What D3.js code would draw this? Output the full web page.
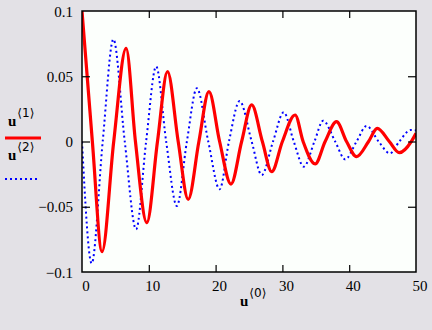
<!DOCTYPE html>
<html>
<head>
<meta charset="utf-8">
<script src="https://cdn.jsdelivr.net/npm/d3@7"></script>
<style>
  body { margin: 0; background: #e3e1e6; }
  svg { display: block; }
  .tick-label { font-family: "Liberation Serif", "Times New Roman", serif; font-size: 15px; fill: #000; }
  .var { font-family: "Liberation Serif", serif; font-weight: bold; font-size: 15px; }
  .sup { font-family: "DejaVu Sans", sans-serif; font-size: 12px; }
</style>
</head>
<body>
<div id="chart"></div>
<script>

// values (extrema and zero crossings)
var u1X = [0, 1.55, 3.0, 4.75, 6.6, 8.0, 9.7, 11.3, 12.8, 14.4, 15.9, 17.5, 19.0, 20.6, 22.3, 23.9,
           25.4, 27.0, 28.4, 30.0, 31.9, 33.1, 34.9, 36.4, 38.1, 39.6, 41.1, 42.9, 44.2, 46.0, 47.5, 49.3, 50];
var u1Y = [0.1, 0, -0.0844, 0, 0.0714, 0, -0.0622, 0, 0.0535, 0, -0.0443, 0, 0.0382, 0, -0.0326, 0,
           0.028, 0, -0.0231, 0, 0.0203, 0, -0.0172, 0, 0.0152, 0, -0.0116, 0, 0.0101, 0, -0.0086, 0, 0.0063];

var u2X = [0, 1.45, 3.1, 4.7, 6.4, 8.1, 9.6, 11.1, 12.6, 14.2, 15.7, 17.2, 18.9, 20.6, 22.0, 23.6,
           25.4, 26.9, 28.6, 30.2, 31.7, 33.2, 34.8, 36.1, 37.9, 39.4, 41.1, 42.6, 44.4, 46.1, 47.5, 49.2, 50];
var u2Y = [0, -0.0933, 0, 0.0783, 0, -0.0673, 0, 0.0575, 0, -0.0494, 0, 0.0408, 0, -0.0366, 0, 0.031,
           0, -0.0257, 0, 0.0224, 0, -0.0193, 0, 0.0159, 0, -0.0137, 0, 0.0119, 0, -0.0091, 0, 0.0088, 0.0085];

var xTicks = [0, 10, 20, 30, 40, 50];
var yTicks = [0.1, 0.05, 0, -0.05, -0.1];
var yTickLabels = ["0.1", "0.05", "0", "\u22120.05", "\u22120.1"];

var W = 432, H = 330;
var plot = { left: 82, top: 11, right: 416, bottom: 272 };

var svg = d3.select("#chart").append("svg")
    .attr("width", W)
    .attr("height", H);

svg.append("rect")
    .attr("width", W).attr("height", H)
    .attr("fill", "#e3e1e6");

var x = d3.scaleLinear().domain([0, 50]).range([plot.left, plot.right]);
var y = d3.scaleLinear().domain([-0.1, 0.1]).range([plot.bottom, plot.top]);

// plot area
svg.append("rect")
    .attr("x", plot.left).attr("y", plot.top)
    .attr("width", plot.right - plot.left)
    .attr("height", plot.bottom - plot.top)
    .attr("fill", "#fcfffc");

var clip = svg.append("defs").append("clipPath").attr("id", "clip");
clip.append("rect")
    .attr("x", plot.left).attr("y", plot.top)
    .attr("width", plot.right - plot.left)
    .attr("height", plot.bottom - plot.top);

var line = d3.line()
    .curve(d3.curveMonotoneX)
    .x(function(d) { return x(d[0]); })
    .y(function(d) { return y(d[1]); });

var u1 = u1X.map(function(v, i) { return [v, u1Y[i]]; });
var u2 = u2X.map(function(v, i) { return [v, u2Y[i]]; });

svg.append("path")
    .datum(u2)
    .attr("clip-path", "url(#clip)")
    .attr("d", line)
    .attr("fill", "none")
    .attr("stroke", "#0000ff")
    .attr("stroke-width", 2)
    .attr("stroke-dasharray", "2,3");

svg.append("path")
    .datum(u1)
    .attr("clip-path", "url(#clip)")
    .attr("d", line)
    .attr("fill", "none")
    .attr("stroke", "#ff0000")
    .attr("stroke-width", 3.2);

// inward ticks on all four sides
function tickAxis(axis, tr) {
    var g = svg.append("g").attr("transform", tr).call(axis);
    g.select(".domain").remove();
    g.selectAll("text").remove();
    g.selectAll("line").attr("stroke", "#000").attr("stroke-width", 1.2);
}
var inner = xTicks.slice(1, -1), innerY = yTicks.slice(1, -1);
tickAxis(d3.axisBottom(x).tickValues(inner).tickSize(-7), "translate(0," + plot.bottom + ")");
tickAxis(d3.axisTop(x).tickValues(inner).tickSize(-7), "translate(0," + plot.top + ")");
tickAxis(d3.axisLeft(y).tickValues(innerY).tickSize(-8), "translate(" + plot.left + ",0)");
tickAxis(d3.axisRight(y).tickValues(innerY).tickSize(-8), "translate(" + plot.right + ",0)");

svg.append("rect")
    .attr("x", plot.left).attr("y", plot.top)
    .attr("width", plot.right - plot.left)
    .attr("height", plot.bottom - plot.top)
    .attr("fill", "none")
    .attr("stroke", "#000")
    .attr("stroke-width", 1.5);

// tick labels
svg.selectAll(".xl").data(xTicks).enter().append("text")
    .attr("class", "tick-label")
    .attr("x", function(d) { return x(d) + 4; })
    .attr("y", 291)
    .attr("text-anchor", "middle")
    .text(function(d) { return d; });

svg.selectAll(".yl").data(yTicks).enter().append("text")
    .attr("class", "tick-label")
    .attr("x", 73)
    .attr("y", function(d) { return y(d) + 5.5; })
    .attr("text-anchor", "end")
    .text(function(d, i) { return yTickLabels[i]; });

// variable names
function varLabel(px, py, sub) {
    var t = svg.append("text").attr("x", px).attr("y", py);
    t.append("tspan").attr("class", "var").text("u");
    t.append("tspan").attr("class", "sup").attr("dx", 1).attr("dy", -9).text("\u27e8" + sub + "\u27e9");
}
varLabel(240, 306, "0");
varLabel(8, 126, "1");
varLabel(8, 160, "2");

svg.append("line")
    .attr("x1", 5).attr("x2", 41).attr("y1", 138).attr("y2", 138)
    .attr("stroke", "#ff0000").attr("stroke-width", 3);
svg.append("line")
    .attr("x1", 5).attr("x2", 40).attr("y1", 179).attr("y2", 179)
    .attr("stroke", "#0000ff").attr("stroke-width", 2)
    .attr("stroke-dasharray", "2,3");

</script>
</body>
</html>
